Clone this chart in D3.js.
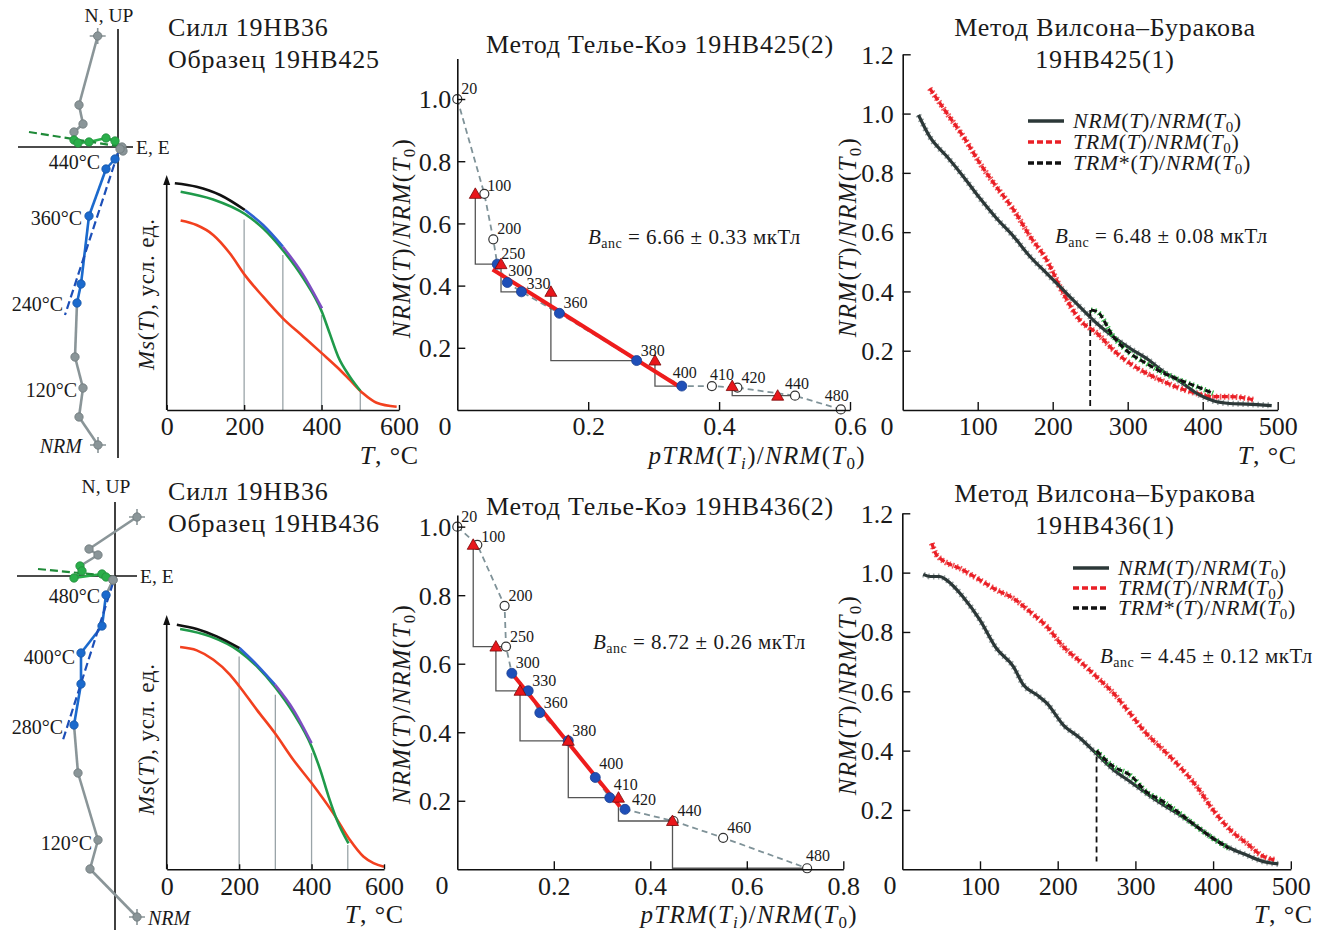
<!DOCTYPE html>
<html><head><meta charset="utf-8">
<script src="https://cdn.jsdelivr.net/npm/d3@7"></script>
<style>
body{margin:0;background:#fff;}
svg{font-family:"Liberation Serif","Times New Roman",serif;}
</style></head><body>
<svg id="fig" width="1327" height="932"></svg>
<script>
// ---- Zijderveld, образец 19НВ425 (усл. ед.) ----
var zijA_horiz = [[-2.03,11.1],[-3.9,4.2],[-3.5,2.3],[-4.4,1.5],[-4.4,0.7],[-4.0,0.4],[-2.9,0.5],[-1.2,0.9],[-0.3,0.6],[0.4,0.0],[0.5,-0.4]];
var zijA_horizKind = "nnnngggggnn";
var zijA_vert = [[-2.0,-29.8],[-3.9,-27.0],[-3.5,-24.1],[-4.3,-21.0],[-4.1,-15.6],[-3.7,-13.7],[-2.9,-6.9],[-1.2,-2.2],[-0.3,-1.2],[0.2,-0.2]];
var zijA_vertKind = "nnnnbbbbbn";
var zijA_fitGreen = [[-8.9,1.5],[-0.1,0.1]];
var zijA_fitBlue = [[0,-0.6],[-5.3,-16.8]];
var zijA_stepText = ["NRM","120°C","240°C","360°C","440°C"];
var zijA_stepIdx = [0,2,4,6,7];

// ---- Zijderveld, образец 19НВ436 ----
var zijB_horiz = [[2.2,5.9],[-2.6,2.7],[-1.7,2.1],[-3.5,1.0],[-3.3,0.5],[-4.1,-0.2],[-1.3,0.2],[-0.9,-0.1],[-0.2,-0.4]];
var zijB_horizKind = "nnngggggn";
var zijB_vert = [[2.2,-34.1],[-2.5,-29.3],[-1.7,-26.4],[-3.7,-19.7],[-4.1,-14.9],[-3.4,-10.8],[-3.4,-7.7],[-1.3,-5.0],[-0.9,-1.9],[-0.2,-0.4]];
var zijB_vertKind = "nnnnbbbbbn";
var zijB_fitGreen = [[-7.7,0.7],[-0.5,0]];
var zijB_fitBlue = [[-0.2,-0.7],[-5.3,-16.7]];
var zijB_stepText = ["NRM","120°C","280°C","400°C","480°C"];
var zijB_stepIdx = [0,2,4,6,8];

// ---- Ms(T), 19НВ425 ----
var msA_blackT = [21,77,138,202], msA_black = [0.965,0.95,0.915,0.851];
var msA_blueT = [202,249,300], msA_blue = [0.851,0.787,0.695];
var msA_purpleT = [300,353,401], msA_purple = [0.695,0.574,0.433];
var msA_greenT = [36,120,202,249,300,353,401,421,443,473,500];
var msA_green = [0.929,0.896,0.834,0.773,0.68,0.56,0.417,0.326,0.227,0.142,0.082];
var msA_redT = [36,77,120,163,202,249,300,353,401,439,473,507,542,594];
var msA_red = [0.806,0.787,0.745,0.667,0.574,0.482,0.39,0.312,0.241,0.184,0.128,0.071,0.031,0.014];
var msA_markT = [200,300,400,500], msA_markTop = [0.811,0.66,0.404,0.078];

// ---- Ms(T), 19НВ436 ----
var msB_blackT = [28,83,138,201], msB_black = [0.962,0.945,0.916,0.870];
var msB_blueT = [201,249,299], msB_blue = [0.870,0.804,0.726];
var msB_purpleT = [299,350,400], msB_purple = [0.726,0.627,0.496];
var msB_greenT = [37,120,201,249,299,350,400,424,447,470,502];
var msB_green = [0.945,0.916,0.857,0.798,0.717,0.614,0.483,0.391,0.286,0.194,0.102];
var msB_redT = [37,83,129,175,201,249,299,350,400,460,506,543,571,600];
var msB_red = [0.874,0.861,0.824,0.765,0.719,0.627,0.535,0.43,0.339,0.22,0.115,0.05,0.024,0.01];
var msB_markT = [200,300,400,500], msB_markTop = [0.837,0.686,0.457,0.096];

// ---- Телье-Коэ 19НВ425(2) ----
var thA_temps = [20,100,200,250,300,330,360,380,400,410,420,440,480];
var thA_ptrm = [0,0.0413,0.055,0.061,0.0764,0.098,0.156,0.274,0.343,0.389,0.428,0.516,0.586];
var thA_nrm = [1.0,0.695,0.549,0.469,0.41,0.38,0.311,0.159,0.077,0.077,0.072,0.046,0.002];
var thA_fitRange = [250,400];
var thA_checkFrom = [100,250,330,380,400,440];
var thA_checkTo = [250,330,380,400,440,null];
var thA_checkX = [0.0275,0.0668,0.143,0.302,0.42,0.4895];
var thA_line = [[0.054,0.452],[0.3377,0.077]];

// ---- Телье-Коэ 19НВ436(2) ----
var thB_temps = [20,100,200,250,300,330,360,380,400,410,420,440,460,480];
var thB_ptrm = [0,0.0415,0.098,0.101,0.113,0.147,0.171,0.230,0.286,0.316,0.3475,0.448,0.551,0.725];
var thB_nrm = [1.0,0.947,0.769,0.650,0.572,0.521,0.457,0.375,0.268,0.209,0.175,0.141,0.092,0.003];
var thB_fitRange = [300,420];
var thB_checkFrom = [100,250,330,380,410,440];
var thB_checkTo = [250,330,380,410,440,480];
var thB_checkX = [0.033,0.080,0.130,0.230,0.334,0.446];
var thB_line = [[0.116,0.567],[0.337,0.183]];

// ---- Вилсон-Бураков 19НВ425(1) ----
var wbA_nrmT = [21,36,59,81,103,125,148,170,192,214,236,259,281,303,325,348,370,392,414,436,459,492];
var wbA_nrm = [0.995,0.922,0.855,0.787,0.714,0.647,0.585,0.517,0.461,0.405,0.349,0.292,0.247,0.208,0.174,0.129,0.096,0.056,0.031,0.022,0.020,0.015];
var wbA_trmT = [36,59,81,103,125,148,170,192,214,236,259,281,303,325,348,370,392,414,436,459,468];
var wbA_trm = [1.085,1.001,0.922,0.832,0.753,0.675,0.585,0.506,0.394,0.304,0.259,0.202,0.157,0.124,0.096,0.073,0.056,0.045,0.045,0.039,0.034];
var wbA_starT = [251,259,281,303,325,348,370,392,414];
var wbA_star = [0.337,0.332,0.247,0.191,0.157,0.124,0.101,0.079,0.056];
var wbA_cut = [250,0.337,0];

// ---- Вилсон-Бураков 19НВ436(1) ----
var wbB_nrmT = [27,36,48,57,78,100,121,143,156,173,186,207,229,250,272,293,314,336,357,379,400,422,443,465,484];
var wbB_nrm = [0.994,0.987,0.987,0.975,0.919,0.840,0.745,0.683,0.621,0.588,0.560,0.487,0.442,0.389,0.335,0.296,0.256,0.217,0.183,0.144,0.104,0.071,0.048,0.026,0.018];
var wbB_trmT = [38,44,78,100,121,143,164,186,207,229,250,272,293,314,336,357,379,400,422,443,465,482];
var wbB_trm = [1.099,1.06,1.009,0.975,0.942,0.913,0.869,0.818,0.751,0.700,0.649,0.593,0.526,0.458,0.402,0.346,0.279,0.200,0.133,0.088,0.043,0.031];
var wbB_starT = [250,272,293,314,336,357,379,400,420];
var wbB_star = [0.4,0.346,0.318,0.262,0.228,0.189,0.144,0.104,0.071];
var wbB_cut = [250,0.38,0.026];

var svg = d3.select("#fig");
var serif = "'Liberation Serif','Times New Roman',serif";
var ink = "#1a1a1a";

// text with italic parts and subscripts: "i:" italic, "n:" normal, "s:" sub, "S:" italic sub
function rich(sel, parts, fs) {
  var down = 0;
  parts.forEach(function(p) {
    var k = p.charAt(0), s = p.slice(2);
    var ts = sel.append("tspan").text(s);
    if (k == "i" || k == "S") ts.attr("font-style", "italic");
    if (k == "s" || k == "S") {
      ts.attr("font-size", Math.round(fs * 0.68)).attr("dy", fs * 0.2);
      down = fs * 0.2;
    } else if (down) {
      ts.attr("dy", -down);
      down = 0;
    }
  });
  return sel;
}
function txt(x, y, fs, anchor, ls) {
  return svg.append("text").attr("x", x).attr("y", y).attr("font-size", fs)
    .attr("text-anchor", anchor || "start").attr("letter-spacing", ls || 0).attr("fill", ink);
}
function vtxt(x, y, fs, ls) {
  return svg.append("text").attr("transform", "translate(" + x + "," + y + ") rotate(-90)")
    .attr("text-anchor", "middle").attr("font-size", fs).attr("letter-spacing", ls).attr("fill", ink);
}
function styleAxis(g) {
  g.attr("font-family", serif).attr("font-size", 26);
  g.select(".domain").attr("stroke", "#111").attr("stroke-width", 1.6);
  g.selectAll(".tick line").attr("stroke", "#111").attr("stroke-width", 1.4);
  g.selectAll(".tick text").attr("fill", ink);
}

var NRMlab = ["i:NRM","n:(","i:T","n:)/","i:NRM","n:(","i:T","s:0","n:)"];
var TRMlab = ["i:TRM","n:(","i:T","n:)/","i:NRM","n:(","i:T","s:0","n:)"];
var TRMslab = ["i:TRM","n:*(","i:T","n:)/","i:NRM","n:(","i:T","s:0","n:)"];
var pTRMlab = ["i:pTRM","n:(","i:T","S:i","n:)/","i:NRM","n:(","i:T","s:0","n:)"];
var Tlab = ["i:T","n:, °C"];

// ---------------- Zijderveld ----------------
var zcol = {n: "#8a9598", g: "#2aae4a", b: "#1b6acd"};

function drawZij(c) {
  var x = d3.scaleLinear().domain([0, 1]).range([c.ox, c.ox + 10]);
  var y = d3.scaleLinear().domain([0, 1]).range([c.oy, c.oy - 10]);
  var g = svg.append("g");
  g.append("line").attr("x1", x(c.hAxis[0])).attr("x2", x(c.hAxis[1]))
    .attr("y1", y(0)).attr("y2", y(0)).attr("stroke", "#111").attr("stroke-width", 1.6);
  g.append("line").attr("x1", x(0)).attr("x2", x(0))
    .attr("y1", y(c.vAxis[0])).attr("y2", y(c.vAxis[1])).attr("stroke", "#111").attr("stroke-width", 1.6);

  function chain(pts, kinds) {
    for (var i = 1; i < pts.length; i++) {
      var k = kinds[i] == kinds[i - 1] ? kinds[i] : "n";
      g.append("line").attr("x1", x(pts[i - 1][0])).attr("y1", y(pts[i - 1][1]))
        .attr("x2", x(pts[i][0])).attr("y2", y(pts[i][1]))
        .attr("stroke", zcol[k]).attr("stroke-width", 2.6);
    }
  }
  function marks(pts, kinds) {
    pts.forEach(function(p, i) {
      var px = x(p[0]), py = y(p[1]);
      if (i == 0) {
        g.append("path").attr("d", "M" + (px - 8) + "," + py + "H" + (px + 8) + "M" + px + "," + (py - 8) + "V" + (py + 8))
          .attr("stroke", zcol.n).attr("stroke-width", 1.6);
      }
      g.append("circle").attr("cx", px).attr("cy", py).attr("r", 4.2)
        .attr("fill", zcol[kinds[i]]).attr("stroke", d3.color(zcol[kinds[i]]).darker(0.6)).attr("stroke-width", 0.8);
    });
  }
  chain(c.horiz, c.horizKind);
  chain(c.vert, c.vertKind);
  [[c.fitGreen, "#1f8a38"], [c.fitBlue, "#1c4fb8"]].forEach(function(f) {
    g.append("line").attr("x1", x(f[0][0][0])).attr("y1", y(f[0][0][1]))
      .attr("x2", x(f[0][1][0])).attr("y2", y(f[0][1][1]))
      .attr("stroke", f[1]).attr("stroke-width", 2.2).attr("stroke-dasharray", "8,4");
  });
  marks(c.horiz, c.horizKind);
  marks(c.vert, c.vertKind);

  c.stepIdx.forEach(function(idx, j) {
    var p = c.vert[idx], nd = c.nudge[j];
    var t = txt(x(p[0]) + nd[0], y(p[1]) + 7 + nd[1], 20, nd[2] || "end").text(c.stepText[j]);
    if (c.stepText[j] == "NRM") t.attr("font-style", "italic");
  });
  txt(x(0) - 9, c.nLabelY, 19.5, "middle").text("N, UP");
  txt(x(c.hAxis[1]) + 3, y(0) + 7, 19.5).text("E, E");
}

drawZij({ox: 118, oy: 147, hAxis: [-10, 1.5], vAxis: [11.8, -31.1],
  horiz: zijA_horiz, horizKind: zijA_horizKind, vert: zijA_vert, vertKind: zijA_vertKind,
  fitGreen: zijA_fitGreen, fitBlue: zijA_fitBlue, stepText: zijA_stepText, stepIdx: zijA_stepIdx,
  nudge: [[-16, 1], [-6, 2], [-14, 1], [-7, 2], [-6, -7]], nLabelY: 22});
drawZij({ox: 115, oy: 576, hAxis: [-9.8, 2.2], vAxis: [7.4, -35.4],
  horiz: zijB_horiz, horizKind: zijB_horizKind, vert: zijB_vert, vertKind: zijB_vertKind,
  fitGreen: zijB_fitGreen, fitBlue: zijB_fitBlue, stepText: zijB_stepText, stepIdx: zijB_stepIdx,
  nudge: [[11, 1, "start"], [-6, 3], [-11, 2], [-6, 4], [-6, 1]], nLabelY: 493});

// ---------------- Ms(T) ----------------
function drawMs(c) {
  var x = d3.scaleLinear().domain([0, 600]).range([c.x0, c.x1]);
  var y = d3.scaleLinear().domain([0, 1]).range([c.y0, c.y1]);
  var line = d3.line().x(function(d) { return x(d[0]); }).y(function(d) { return y(d[1]); }).curve(d3.curveMonotoneX);
  c.markT.forEach(function(t, i) {
    svg.append("line").attr("x1", x(t)).attr("x2", x(t)).attr("y1", y(0)).attr("y2", y(c.markTop[i]))
      .attr("stroke", "#9aa4a8").attr("stroke-width", 1.3);
  });
  var curves = [[c.red, "#f2401f"], [c.green, "#1f9a4a"], [c.black, "#111111"], [c.blue, "#2f62d2"], [c.purple, "#7d4fc2"]];
  curves.forEach(function(cv) {
    svg.append("path").attr("d", line(cv[0])).attr("fill", "none").attr("stroke", cv[1]).attr("stroke-width", 2.6);
  });
  var ax = svg.append("g").attr("transform", "translate(0," + c.y0 + ")")
    .call(d3.axisBottom(x).tickValues([0, 200, 400, 600]).tickSizeInner(-5).tickSizeOuter(0).tickPadding(7));
  styleAxis(ax);
  svg.append("line").attr("x1", c.x0).attr("x2", c.x0).attr("y1", c.y0).attr("y2", c.y1 + 4)
    .attr("stroke", "#111").attr("stroke-width", 1.6);
  svg.append("path").attr("d", "M" + (c.x0 - 3.5) + "," + (c.y1 + 10) + "L" + c.x0 + "," + c.y1 + "L" + (c.x0 + 3.5) + "," + (c.y1 + 10) + "Z")
    .attr("fill", "#111");
  rich(vtxt(154, c.labY, 23, 0.8), ["i:Ms", "n:(", "i:T", "n:), усл. ед."], 23);
  rich(txt(c.tX, c.y0 + 54, 26, "end", 0.8), Tlab, 26);
}

drawMs({x0: 166.7, x1: 399, y0: 410, y1: 175, labY: 294, tX: 419,
  black: d3.zip(msA_blackT, msA_black), blue: d3.zip(msA_blueT, msA_blue), purple: d3.zip(msA_purpleT, msA_purple),
  green: d3.zip(msA_greenT, msA_green), red: d3.zip(msA_redT, msA_red), markT: msA_markT, markTop: msA_markTop});
drawMs({x0: 166.7, x1: 384, y0: 869.3, y1: 615, labY: 739, tX: 404,
  black: d3.zip(msB_blackT, msB_black), blue: d3.zip(msB_blueT, msB_blue), purple: d3.zip(msB_purpleT, msB_purple),
  green: d3.zip(msB_greenT, msB_green), red: d3.zip(msB_redT, msB_red), markT: msB_markT, markTop: msB_markTop});

// ---------------- Телье-Коэ ----------------
function drawThellier(c) {
  var x = d3.scaleLinear().domain([0, c.xMax]).range([457.3, c.xEnd]);
  var y = d3.scaleLinear().domain([0, c.yMax]).range([c.y0, c.yTop]);
  var pts = c.temps.map(function(t, i) { return {t: t, x: c.ptrm[i], y: c.nrm[i]}; });
  var byT = {};
  pts.forEach(function(p) { byT[p.t] = p; });

  svg.append("path").attr("d", d3.line().x(function(d) { return x(d.x); }).y(function(d) { return y(d.y); })(pts))
    .attr("fill", "none").attr("stroke", "#7f9298").attr("stroke-width", 1.8).attr("stroke-dasharray", "6,4");

  c.checkFrom.forEach(function(f, i) {
    var a = byT[f], b = c.checkTo[i] == null ? null : byT[c.checkTo[i]];
    if (!b) return;
    svg.append("path").attr("d", "M" + x(c.checkX[i]) + "," + y(a.y) + "V" + y(b.y) + "H" + x(b.x))
      .attr("fill", "none").attr("stroke", "#555").attr("stroke-width", 1.3);
  });
  svg.append("line").attr("x1", x(c.line[0][0])).attr("y1", y(c.line[0][1]))
    .attr("x2", x(c.line[1][0])).attr("y2", y(c.line[1][1]))
    .attr("stroke", "#ee1c1c").attr("stroke-width", 4);

  pts.forEach(function(p) {
    var used = p.t >= c.fitRange[0] && p.t <= c.fitRange[1];
    svg.append("circle").attr("cx", x(p.x)).attr("cy", y(p.y)).attr("r", used ? 5 : 4.5)
      .attr("fill", used ? "#1f4fb8" : "#fff").attr("stroke", used ? "#1a3f90" : "#333").attr("stroke-width", used ? 0.8 : 1.2);
  });
  c.checkFrom.forEach(function(f, i) {
    var px = x(c.checkX[i]), py = y(byT[f].y);
    svg.append("path").attr("d", "M" + (px - 6) + "," + (py + 4.5) + "L" + px + "," + (py - 6) + "L" + (px + 6) + "," + (py + 4.5) + "Z")
      .attr("fill", "#e8161b").attr("stroke", "#7a0a0a").attr("stroke-width", 0.8);
  });
  pts.forEach(function(p) {
    var nd = c.nudge[p.t] || [4, -5];
    txt(x(p.x) + nd[0], y(p.y) + nd[1], 16).text(p.t);
  });

  var ay = svg.append("g").attr("transform", "translate(457.3,0)")
    .call(d3.axisLeft(y).tickValues([0.2, 0.4, 0.6, 0.8, 1.0]).tickFormat(d3.format(".1f")).tickSizeInner(-8).tickSizeOuter(0).tickPadding(6));
  styleAxis(ay);
  ay.selectAll(".tick text").attr("dy", "0.34em");
  var ax = svg.append("g").attr("transform", "translate(0," + c.y0 + ")")
    .call(d3.axisBottom(x).tickValues(c.xTicks).tickFormat(d3.format(".1f")).tickSizeInner(-8).tickSizeOuter(0).tickPadding(7));
  styleAxis(ax);
  txt(c.zeroX, c.y0 + 25, 26, "middle").text("0");

  txt(660, c.titleY, 26, "middle", 0.8).text(c.title);
  rich(txt(c.bancX, c.bancY, 21, "start", 0.5), ["i:B", "s:anc", "n: = " + c.banc + " мкТл"], 21);
  rich(vtxt(410, c.labY, 25, 1.3), NRMlab, 25);
  rich(txt(c.pX, c.y0 + 54, 25, "end", 1.3), pTRMlab, 25);
}

drawThellier({xMax: 0.6, xEnd: 850, yMax: 1.13, y0: 410, yTop: 58.6, xTicks: [0.2, 0.4, 0.6], zeroX: 445,
  temps: thA_temps, ptrm: thA_ptrm, nrm: thA_nrm, fitRange: thA_fitRange,
  checkFrom: thA_checkFrom, checkTo: thA_checkTo, checkX: thA_checkX, line: thA_line,
  nudge: {100: [3, -3], 300: [1, -7], 330: [5, -3], 400: [-9, -8], 410: [-2, -6], 440: [-10, -7], 480: [-16, -8]},
  title: "Метод Телье-Коэ 19НВ425(2)", titleY: 53, banc: "6.66 ± 0.33", bancX: 588, bancY: 244, labY: 238, pX: 866});
drawThellier({xMax: 0.8, xEnd: 843.3, yMax: 1.034, y0: 869.3, yTop: 515, xTicks: [0.2, 0.4, 0.6, 0.8], zeroX: 442,
  temps: thB_temps, ptrm: thB_ptrm, nrm: thB_nrm, fitRange: thB_fitRange,
  checkFrom: thB_checkFrom, checkTo: thB_checkTo, checkX: thB_checkX, line: thB_line,
  nudge: {100: [4, -3], 400: [4, -8], 410: [4, -8], 420: [7, -4], 480: [-1, -7]},
  title: "Метод Телье-Коэ 19НВ436(2)", titleY: 515, banc: "8.72 ± 0.26", bancX: 593, bancY: 649, labY: 704, pX: 858});

// ---------------- Вилсон-Бураков ----------------
function drawWilson(c) {
  var x = d3.scaleLinear().domain([0, 500]).range([c.x0, c.x1]);
  var y = d3.scaleLinear().domain([0, 1.2]).range([c.y0, c.y1]);
  var line = d3.line().x(function(d) { return x(d[0]); }).y(function(d) { return y(d[1]); }).curve(d3.curveMonotoneX);

  // scattered measurements drawn as dotted bands under the smoothed curves
  svg.append("path").attr("d", line(c.nrm)).attr("fill", "none").attr("stroke", "#6f7c7c").attr("stroke-width", 6)
    .attr("stroke-dasharray", "1.5,3.5").attr("opacity", 0.7);
  svg.append("path").attr("d", line(c.trm)).attr("fill", "none").attr("stroke", "#ee2a2e").attr("stroke-width", 6)
    .attr("stroke-dasharray", "1.5,2.5").attr("opacity", 0.8);
  svg.append("path").attr("d", line(c.trm)).attr("fill", "none").attr("stroke", "#ea1f26").attr("stroke-width", 3.2)
    .attr("stroke-dasharray", "6,2.5");
  svg.append("path").attr("d", line(c.nrm)).attr("fill", "none").attr("stroke", "#2c3838").attr("stroke-width", 3.2);
  svg.append("path").attr("d", line(c.star)).attr("fill", "none").attr("stroke", "#2fbf45").attr("stroke-width", 5.5)
    .attr("stroke-dasharray", "1.2,3");
  svg.append("path").attr("d", line(c.star)).attr("fill", "none").attr("stroke", "#111").attr("stroke-width", 3)
    .attr("stroke-dasharray", "6,3");
  svg.append("line").attr("x1", x(c.cut[0])).attr("x2", x(c.cut[0])).attr("y1", y(c.cut[1])).attr("y2", y(c.cut[2]))
    .attr("stroke", "#111").attr("stroke-width", 1.8).attr("stroke-dasharray", "6,4");

  var ay = svg.append("g").attr("transform", "translate(" + c.x0 + ",0)")
    .call(d3.axisLeft(y).tickValues([0.2, 0.4, 0.6, 0.8, 1.0, 1.2]).tickFormat(d3.format(".1f")).tickSizeInner(-8).tickSizeOuter(0).tickPadding(9));
  styleAxis(ay);
  ay.selectAll(".tick text").attr("dy", "0.34em");
  var ax = svg.append("g").attr("transform", "translate(0," + c.y0 + ")")
    .call(d3.axisBottom(x).tickValues([100, 200, 300, 400, 500]).tickSizeInner(-8).tickSizeOuter(0).tickPadding(7));
  styleAxis(ax);
  txt(c.zeroX, c.y0 + 25, 26, "middle").text("0");

  txt(1105, c.titleY, 26, "middle", 0.8).text("Метод Вилсона–Буракова");
  txt(1105, c.titleY + 32, 26, "middle", 0.8).text(c.name);

  var leg = [[NRMlab, "#2c3838", null], [TRMlab, "#ea1f26", "6,3"], [TRMslab, "#111", "6,3"]];
  leg.forEach(function(l, i) {
    var ly = c.legY + i * c.legStep;
    svg.append("line").attr("x1", c.legX).attr("x2", c.legX + 36).attr("y1", ly).attr("y2", ly)
      .attr("stroke", l[1]).attr("stroke-width", 3.5).attr("stroke-dasharray", l[2]);
    rich(txt(c.legX + 45, ly + 7, 22, "start", 0.6), l[0], 22);
  });
  rich(txt(c.bancX, c.bancY, 21, "start", 0.5), ["i:B", "s:anc", "n: = " + c.banc + " мкТл"], 21);
  rich(vtxt(856, c.labY, 25, 1.3), NRMlab, 25);
  rich(txt(c.tX, c.y0 + 54, 26, "end", 0.8), Tlab, 26);
}

drawWilson({x0: 902.7, x1: 1277.7, y0: 410, y1: 54.3, zeroX: 887,
  nrm: d3.zip(wbA_nrmT, wbA_nrm), trm: d3.zip(wbA_trmT, wbA_trm), star: d3.zip(wbA_starT, wbA_star), cut: wbA_cut,
  titleY: 36, name: "19НВ425(1)", legX: 1028, legY: 121, legStep: 21,
  banc: "6.48 ± 0.08", bancX: 1055, bancY: 243, labY: 237, tX: 1297});
drawWilson({x0: 902.3, x1: 1290.8, y0: 869.3, y1: 513.3, zeroX: 890,
  nrm: d3.zip(wbB_nrmT, wbB_nrm), trm: d3.zip(wbB_trmT, wbB_trm), star: d3.zip(wbB_starT, wbB_star), cut: wbB_cut,
  titleY: 502, name: "19НВ436(1)", legX: 1073, legY: 568, legStep: 20,
  banc: "4.45 ± 0.12", bancX: 1100, bancY: 663, labY: 695, tX: 1313});

// ---------------- заголовки ----------------
txt(168, 36, 26, "start", 0.8).text("Силл 19НВ36");
txt(168, 68, 26, "start", 0.8).text("Образец 19НВ425");
txt(168, 500, 26, "start", 0.8).text("Силл 19НВ36");
txt(168, 532, 26, "start", 0.8).text("Образец 19НВ436");
</script>
</body></html>
